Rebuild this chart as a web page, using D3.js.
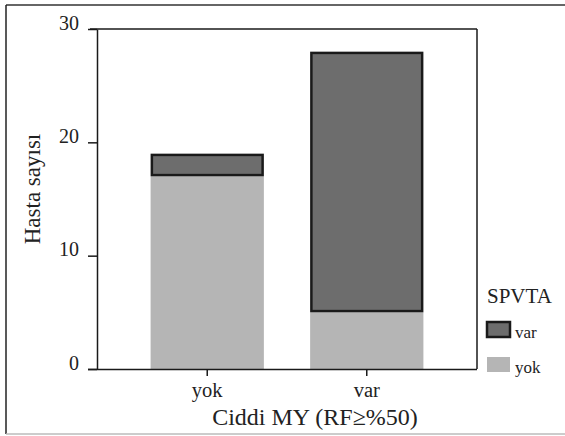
<!DOCTYPE html>
<html><head><meta charset="utf-8">
<script src="https://cdn.jsdelivr.net/npm/d3@7"></script>
<style>body{margin:0;background:#fff}svg{display:block}text{font-family:'Liberation Serif','Times New Roman','DejaVu Serif',serif}</style>
</head><body>
<svg id="c" width="565" height="436"></svg>
<script>
const categories = ["yok", "var"];
const yokValues = [17, 5];
const varValues = [2, 23];
const yTicks = [0, 10, 20, 30];
const legendItems = ["var", "yok"];

const svg = d3.select("#c");
const font = "'Liberation Serif', 'Times New Roman', 'DejaVu Serif', serif";
const colDark = "#6d6d6d", colLight = "#b5b5b5", ink = "#1a1a1a";

// outer frame (right side runs off the picture)
svg.append("line").attr("x1", 6).attr("x2", 565).attr("y1", 5).attr("y2", 5).attr("stroke", "#333").attr("stroke-width", 1.5);
svg.append("line").attr("x1", 6).attr("x2", 6).attr("y1", 5).attr("y2", 434).attr("stroke", "#222").attr("stroke-width", 1.5);
svg.append("line").attr("x1", 6).attr("x2", 565).attr("y1", 434).attr("y2", 434).attr("stroke", "#bbb").attr("stroke-width", 1.5);

const x = d3.scaleBand().domain(categories).range([97, 477]).paddingInner(0.29).paddingOuter(0.336);
const y = d3.scaleLinear().domain([0, 30]).range([369, 29]);

// plot box top and right
svg.append("line").attr("x1", 90).attr("x2", 477).attr("y1", y(30)).attr("y2", y(30)).attr("stroke", ink).attr("stroke-width", 1.5);
svg.append("line").attr("x1", 477).attr("x2", 477).attr("y1", y(30)).attr("y2", y(0)).attr("stroke", ink).attr("stroke-width", 1.5);

// bars
categories.forEach((c, i) => {
  svg.append("rect").attr("x", x(c)).attr("width", x.bandwidth())
    .attr("y", y(yokValues[i])).attr("height", y(0) - y(yokValues[i])).attr("fill", colLight);
  const top = yokValues[i] + varValues[i];
  svg.append("rect").attr("x", x(c) + 1.25).attr("width", x.bandwidth() - 2.5)
    .attr("y", y(top) + 1.25).attr("height", y(yokValues[i]) - y(top) - 2.5)
    .attr("fill", colDark).attr("stroke", ink).attr("stroke-width", 2.5);
});

// y axis
const ya = svg.append("g").attr("transform", "translate(97,0)")
  .call(d3.axisLeft(y).tickValues(yTicks).tickSize(9).tickSizeOuter(0).tickPadding(9));
ya.select(".domain").attr("stroke", ink).attr("stroke-width", 1.5);
ya.selectAll(".tick line").attr("stroke", ink).attr("stroke-width", 1.5);
ya.selectAll(".tick text").style("font-family", font).style("font-size", "20px").attr("fill", "#222")
  .attr("dy", "0");

// x axis
const xa = svg.append("g").attr("transform", "translate(0,369)")
  .call(d3.axisBottom(x).tickSize(7).tickSizeOuter(0).tickPadding(6));
xa.select(".domain").attr("d", "M88,0.5H477").attr("stroke", ink).attr("stroke-width", 1.5);
xa.selectAll(".tick line").attr("stroke", ink).attr("stroke-width", 1.5);
xa.selectAll(".tick text").style("font-family", font).style("font-size", "20.5px").attr("fill", "#222");

// axis titles
svg.append("text").attr("x", 315).attr("y", 425).attr("text-anchor", "middle")
  .style("font-family", font).style("font-size", "24px").attr("fill", "#222").text("Ciddi MY (RF≥%50)");
svg.append("text").attr("transform", "translate(40,189) rotate(-90)").attr("text-anchor", "middle")
  .style("font-family", font).style("font-size", "23px").attr("fill", "#222").text("Hasta sayısı");

// legend
svg.append("text").attr("x", 487).attr("y", 303)
  .style("font-family", font).style("font-size", "21px").attr("fill", "#222").text("SPVTA");
const lg = svg.append("g");
legendItems.forEach((k, i) => {
  const yy = 322 + i * 35;
  const r = lg.append("rect").attr("x", 487).attr("y", yy).attr("width", 23).attr("height", 15)
    .attr("fill", k === "var" ? colDark : colLight);
  if (k === "var") r.attr("stroke", ink).attr("stroke-width", 2.5);
  lg.append("text").attr("x", 515).attr("y", yy + 16)
    .style("font-family", font).style("font-size", "17px").attr("fill", "#222").text(k);
});
</script>
</body></html>
